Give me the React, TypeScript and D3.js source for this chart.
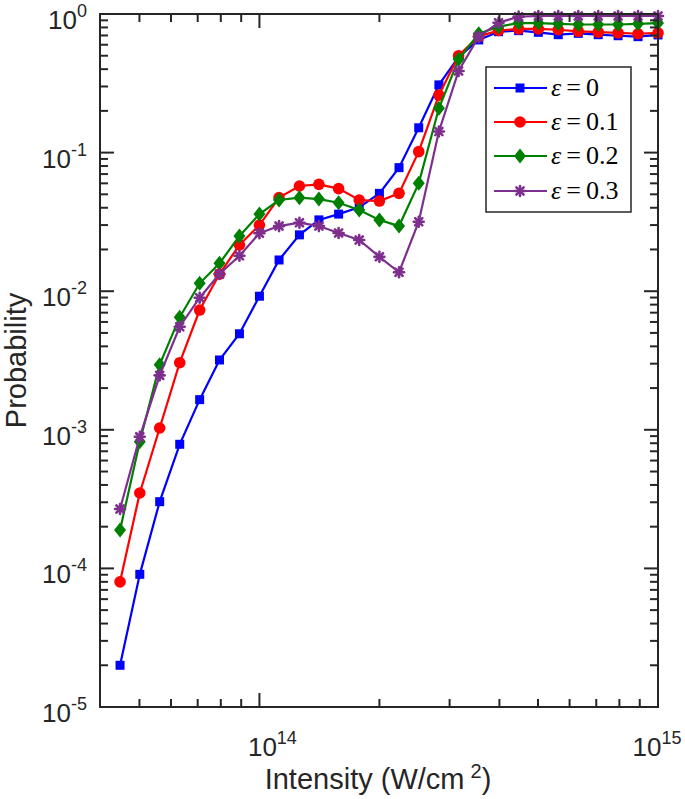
import React from "react";
import * as d3 from "d3";

const intensity = [
  4.47e13, 5.01e13, 5.62e13, 6.31e13, 7.08e13, 7.94e13, 8.91e13, 1.0e14,
  1.12e14, 1.26e14, 1.41e14, 1.58e14, 1.78e14, 2.0e14, 2.24e14, 2.51e14,
  2.82e14, 3.16e14, 3.55e14, 3.98e14, 4.47e14, 5.01e14, 5.62e14, 6.31e14,
  7.08e14, 7.94e14, 8.91e14, 1.0e15,
];

const eps0 = [
  2.0e-5, 9.06e-5, 3.03e-4, 7.86e-4, 1.65e-3, 3.19e-3, 4.93e-3, 9.2e-3,
  1.68e-2, 2.55e-2, 3.27e-2, 3.6e-2, 4.03e-2, 5.08e-2, 7.79e-2, 0.151,
  0.308, 0.49, 0.65, 0.745, 0.758, 0.738, 0.709, 0.725, 0.709, 0.697, 0.686, 0.706,
];
const eps1 = [
  8.0e-5, 3.5e-4, 1.03e-3, 3.05e-3, 7.31e-3, 1.33e-2, 2.16e-2, 3.0e-2,
  4.73e-2, 5.74e-2, 5.9e-2, 5.5e-2, 4.55e-2, 4.47e-2, 5.08e-2, 0.1016,
  0.26, 0.5, 0.69, 0.76, 0.78, 0.78, 0.77, 0.75, 0.74, 0.73, 0.72, 0.73,
];
const eps2 = [
  1.89e-4, 8.2e-4, 2.95e-3, 6.5e-3, 1.14e-2, 1.59e-2, 2.5e-2, 3.6e-2,
  4.55e-2, 4.73e-2, 4.62e-2, 4.35e-2, 3.85e-2, 3.27e-2, 2.95e-2, 6.0e-2,
  0.209, 0.471, 0.72, 0.81, 0.86, 0.86, 0.85, 0.84, 0.84, 0.84, 0.85, 0.86,
];
const eps3 = [
  2.68e-4, 8.9e-4, 2.47e-3, 5.54e-3, 8.97e-3, 1.33e-2, 1.8e-2, 2.62e-2,
  2.95e-2, 3.12e-2, 2.95e-2, 2.63e-2, 2.34e-2, 1.77e-2, 1.37e-2, 3.17e-2,
  0.142, 0.388, 0.686, 0.865, 0.957, 0.967, 0.967, 0.967, 0.967, 0.967, 0.967, 0.967,
];

const seriesNames = ["0", "0.1", "0.2", "0.3"];
const seriesValues = [eps0, eps1, eps2, eps3];
const seriesColors = ["#0000ff", "#ff0000", "#008000", "#7e2f8e"];
const seriesMarkers = ["square", "circle", "diamond", "asterisk"];

const yTickExps = [0, -1, -2, -3, -4, -5];
const xTickExps = [14, 15];

const AX = "#262626";
const SANS = "'Liberation Sans', Arial, Helvetica, sans-serif";
const SERIF = "'Liberation Serif', 'Times New Roman', serif";

function Marker({ type, x, y, color }: { type: string; x: number; y: number; color: string }) {
  if (type === "square") return <rect x={x - 4.5} y={y - 4.5} width={9} height={9} fill={color} />;
  if (type === "circle") return <circle cx={x} cy={y} r={5.8} fill={color} />;
  if (type === "diamond")
    return <path d={`M${x},${y - 7.5}L${x + 6},${y}L${x},${y + 7.5}L${x - 6},${y}Z`} fill={color} />;
  const r = 5;
  const d = r * 0.72;
  return (
    <g stroke={color} strokeWidth={2.6} strokeLinecap="round">
      <line x1={x - r} y1={y} x2={x + r} y2={y} />
      <line x1={x} y1={y - r} x2={x} y2={y + r} />
      <line x1={x - d} y1={y - d} x2={x + d} y2={y + d} />
      <line x1={x - d} y1={y + d} x2={x + d} y2={y - d} />
    </g>
  );
}

export default function App() {
  const left = 100, right = 658, top = 14, bottom = 707;
  const x = d3.scaleLog().domain([Math.pow(10, 13.6), 1e15]).range([left, right]);
  const y = d3.scaleLog().domain([1e-5, 1]).range([bottom, top]);

  const line = d3
    .line<[number, number]>()
    .x((d) => x(d[0]))
    .y((d) => y(d[1]));

  const yTicks: { v: number; major: boolean }[] = [];
  for (let e = -5; e <= 0; e++) {
    yTicks.push({ v: Math.pow(10, e), major: true });
    if (e < 0) for (let m = 2; m <= 9; m++) yTicks.push({ v: m * Math.pow(10, e), major: false });
  }
  const xTicks: { v: number; major: boolean }[] = [];
  for (let m = 5; m <= 9; m++) xTicks.push({ v: m * 1e13, major: false });
  xTicks.push({ v: 1e14, major: true });
  for (let m = 2; m <= 9; m++) xTicks.push({ v: m * 1e14, major: false });
  xTicks.push({ v: 1e15, major: true });

  const majL = 14, minL = 8;

  const legX = 486, legY = 67, legW = 145, legH = 145;
  const rowY = [88, 122, 156, 191];

  return (
    <svg
      width={685}
      height={799}
      style={{ position: "absolute", left: 0, top: 0, background: "#fff" }}
    >
      <rect x={0} y={0} width={685} height={799} fill="#fff" />
      {seriesValues.map((vals, i) => {
        const pts = intensity.map((xv, j) => [xv, vals[j]] as [number, number]);
        return (
          <g key={i}>
            <path d={line(pts) || ""} fill="none" stroke={seriesColors[i]} strokeWidth={2.2} />
            {pts.map((p, j) => (
              <Marker key={j} type={seriesMarkers[i]} x={x(p[0])} y={y(p[1])} color={seriesColors[i]} />
            ))}
          </g>
        );
      })}

      <rect x={left} y={top} width={right - left} height={bottom - top} fill="none" stroke={AX} strokeWidth={2} />
      {yTicks.map((t, i) => {
        const yy = y(t.v);
        const L = t.major ? majL : minL;
        return (
          <g key={"y" + i} stroke={AX} strokeWidth={2}>
            <line x1={left} x2={left + L} y1={yy} y2={yy} />
            <line x1={right} x2={right - L} y1={yy} y2={yy} />
          </g>
        );
      })}
      {xTicks.map((t, i) => {
        const xx = x(t.v);
        const L = t.major ? majL : minL;
        return (
          <g key={"x" + i} stroke={AX} strokeWidth={2}>
            <line x1={xx} x2={xx} y1={bottom} y2={bottom - L} />
            <line x1={xx} x2={xx} y1={top} y2={top + L} />
          </g>
        );
      })}

      {yTickExps.map((e) => (
        <text
          key={"yl" + e}
          x={87}
          y={y(Math.pow(10, e)) + 15}
          textAnchor="end"
          fontFamily={SANS}
          fontSize={26}
          fill={AX}
        >
          10
          <tspan fontSize={18} dy={-12}>
            {String(e)}
          </tspan>
        </text>
      ))}

      {xTickExps.map((e) => {
        const cx = Math.min(x(Math.pow(10, e)) + 13, 684 - 27);
        return (
          <text
            key={"xl" + e}
            x={cx}
            y={756}
            textAnchor="middle"
            fontFamily={SANS}
            fontSize={26}
            fill={AX}
          >
            10
            <tspan fontSize={18} dy={-12}>
              {String(e)}
            </tspan>
          </text>
        );
      })}

      <text x={378} y={789} textAnchor="middle" fontFamily={SANS} fontSize={29} fill={AX}>
        Intensity (W/cm
        <tspan fontSize={20} dx={6} dy={-11}>2</tspan>
        <tspan dy={11}>)</tspan>
      </text>
      <text
        transform={`translate(26,${(top + bottom) / 2}) rotate(-90)`}
        textAnchor="middle"
        fontFamily={SANS}
        fontSize={29}
        fill={AX}
      >
        Probability
      </text>

      <rect x={legX} y={legY} width={legW} height={legH} fill="#fff" stroke={AX} strokeWidth={1.5} />
      {seriesNames.map((n, i) => (
        <g key={"lg" + i}>
          <line x1={494} x2={547} y1={rowY[i]} y2={rowY[i]} stroke={seriesColors[i]} strokeWidth={2.2} />
          <Marker type={seriesMarkers[i]} x={520} y={rowY[i]} color={seriesColors[i]} />
          <text x={551} y={rowY[i] + 8} fontFamily={SERIF} fontSize={26} fill="#000">
            <tspan fontStyle="italic">ε</tspan>
            <tspan dx={5}>=</tspan>
            <tspan dx={5}>{n}</tspan>
          </text>
        </g>
      ))}
    </svg>
  );
}
